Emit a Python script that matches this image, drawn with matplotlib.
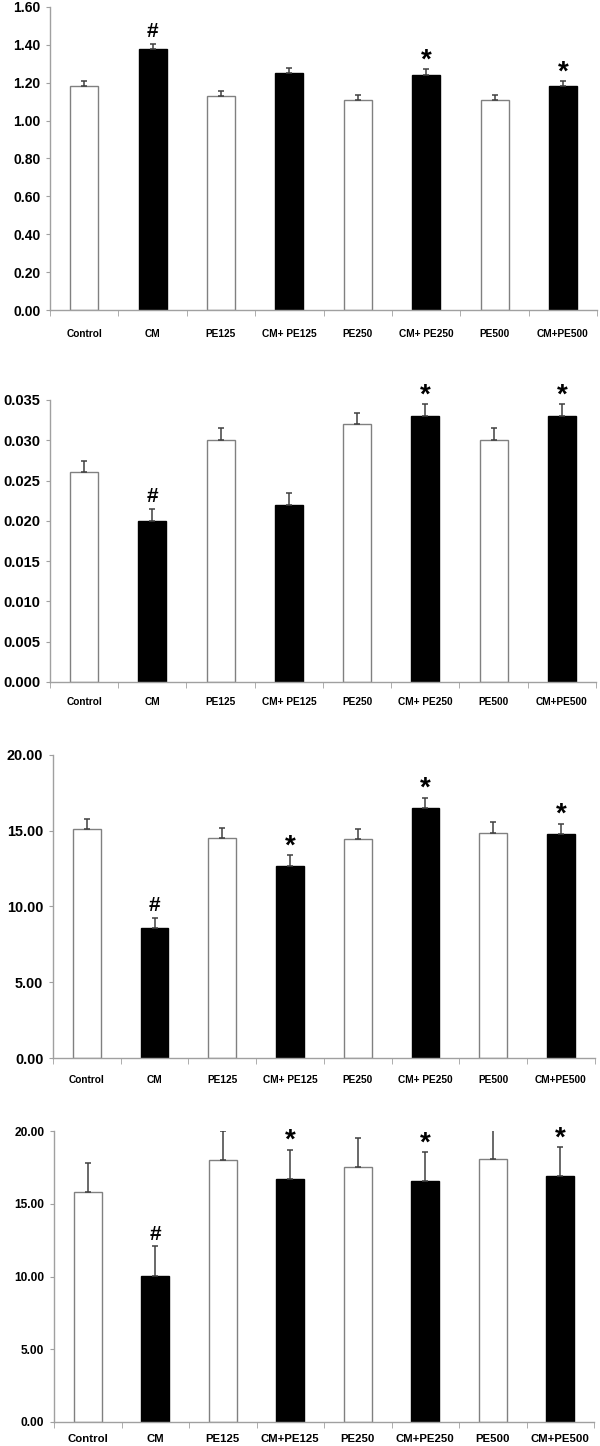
import matplotlib.pyplot as plt
import numpy as np

plt.rcParams["font.family"] = ["Liberation Sans", "DejaVu Sans"]
plt.rcParams["font.weight"] = "bold"

groups = ["Control", "CM", "PE125", "CM+ PE125", "PE250", "CM+ PE250", "PE500", "CM+PE500"]
groups_d = ["Control", "CM", "PE125", "CM+PE125", "PE250", "CM+PE250", "PE500", "CM+PE500"]
filled = [False, True, False, True, False, True, False, True]

vals_a = [1.18, 1.38, 1.13, 1.25, 1.11, 1.24, 1.11, 1.18]
err_a = [0.027, 0.027, 0.026, 0.026, 0.026, 0.03, 0.026, 0.027]
marks_a = ["", "#", "", "", "", "*", "", "*"]

vals_b = [0.026, 0.020, 0.030, 0.022, 0.032, 0.033, 0.030, 0.033]
err_b = [0.0014, 0.0015, 0.0015, 0.0015, 0.0014, 0.0015, 0.0015, 0.0015]
marks_b = ["", "#", "", "", "", "*", "", "*"]

vals_c = [15.1, 8.55, 14.5, 12.68, 14.44, 16.48, 14.88, 14.77]
err_c = [0.7, 0.72, 0.7, 0.7, 0.68, 0.71, 0.7, 0.7]
marks_c = ["", "#", "", "*", "", "*", "", "*"]

vals_d = [15.8, 10.03, 18.03, 16.68, 17.55, 16.56, 18.05, 16.88]
err_d = [2.0, 2.04, 1.97, 2.04, 2.0, 1.97, 2.0, 2.0]
marks_d = ["", "#", "", "*", "", "*", "", "*"]

panels = [
    # (values, errors, marks, labels, ylim, yticks, fmt, axes rect, ytick size, xtick size, xpad)
    (vals_a, err_a, marks_a, groups, (0, 1.6), np.arange(0, 1.61, 0.2), "{:.2f}",
     [0.0833, 0.7856, 0.912, 0.2096], 10, 7.3, 14),
    (vals_b, err_b, marks_b, groups, (0, 0.035), np.arange(0, 0.0351, 0.005), "{:.3f}",
     [0.0833, 0.5284, 0.91, 0.195], 10.5, 7.3, 11),
    (vals_c, err_c, marks_c, groups, (0, 20), np.arange(0, 20.1, 5), "{:.2f}",
     [0.0883, 0.2683, 0.903, 0.2096], 10.4, 7.3, 12),
    (vals_d, err_d, marks_d, groups_d, (0, 20), np.arange(0, 20.1, 5), "{:.2f}",
     [0.09, 0.0166, 0.9, 0.2012], 8.6, 8.2, 9),
]

fig = plt.figure(figsize=(6, 14.46), dpi=100)
x = np.arange(len(groups))
axis_gray = "#a0a0a0"

for vals, errs, marks, labels, ylim, yticks, fmt, rect, ysz, xsz, xpad in panels:
    ax = fig.add_axes(rect)
    faces = ["black" if f else "white" for f in filled]
    edges = ["black" if f else "#808080" for f in filled]
    ax.bar(x, vals, width=0.41, color=faces, edgecolor=edges, linewidth=1.0, zorder=2)
    ax.errorbar(x, vals, yerr=[np.zeros(len(vals)), errs], fmt="none",
                ecolor="#404040", elinewidth=1.1, capsize=2, capthick=1.1, zorder=3)
    for xi, v, e, m in zip(x, vals, errs, marks):
        if m:
            size = 15 if m == "#" else 20
            dy = 2 if m == "#" else -3
            ax.annotate(m, (xi, v + e), xytext=(0, dy), textcoords="offset points",
                        ha="center", va="bottom", fontsize=size, fontweight="bold")
    ax.set_xlim(-0.5, len(groups) - 0.5)
    ax.set_ylim(*ylim)
    ax.set_yticks(yticks)
    ax.set_yticklabels([fmt.format(t) for t in yticks], fontsize=ysz, fontweight="bold")
    ax.set_xticks(x)
    ax.set_xticklabels(labels, fontsize=xsz, fontweight="bold")
    ax.set_xticks(np.arange(-0.5, len(groups)), minor=True)
    ax.tick_params(axis="x", which="major", length=0, pad=xpad)
    ax.tick_params(axis="x", which="minor", length=4, color=axis_gray, direction="out")
    ax.tick_params(axis="y", length=3, color=axis_gray, pad=4)
    for s in ["top", "right"]:
        ax.spines[s].set_visible(False)
    for s in ["left", "bottom"]:
        ax.spines[s].set_color(axis_gray)
        ax.spines[s].set_linewidth(1.0)

fig.savefig("out.png", dpi=100)
